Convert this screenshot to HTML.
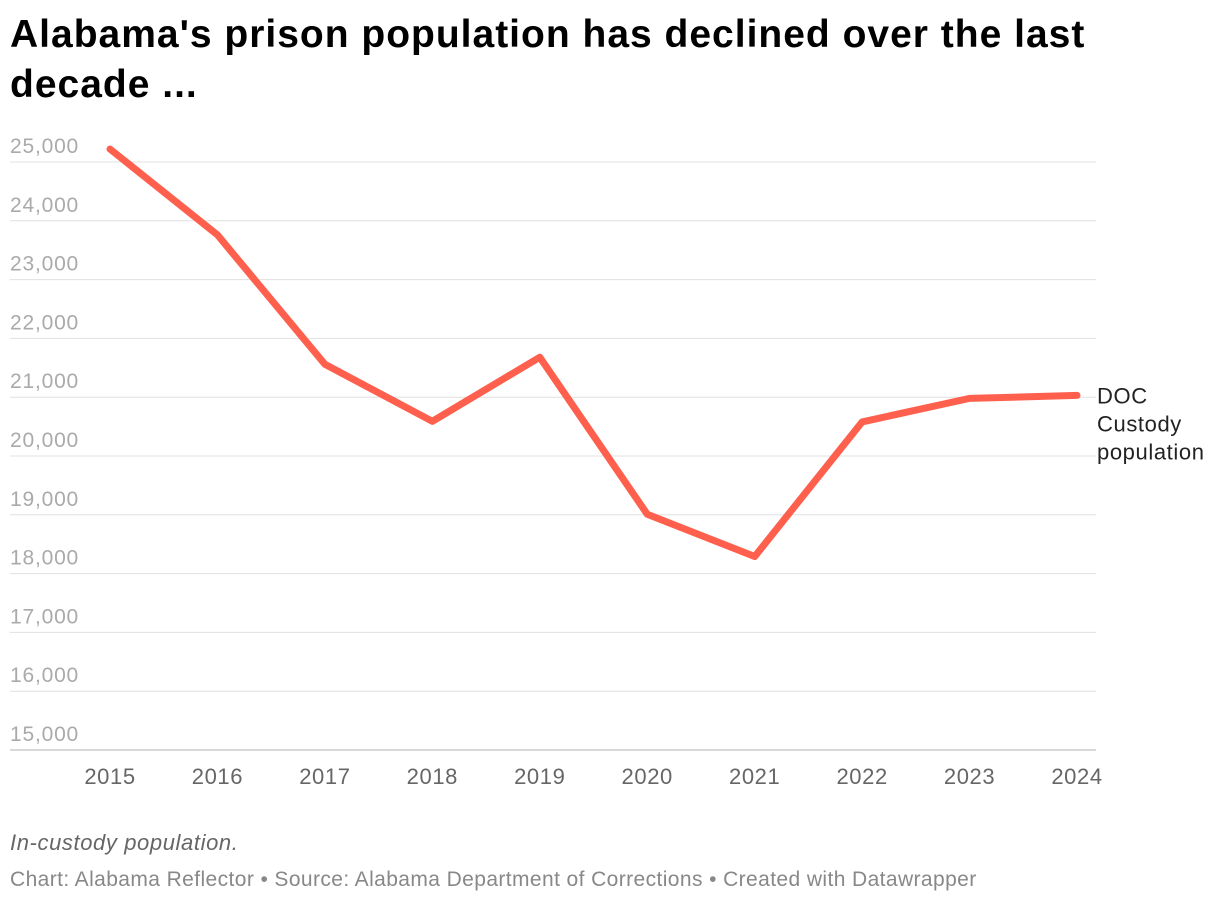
<!DOCTYPE html>
<html><head><meta charset="utf-8"><style>
body{margin:0;background:#fff;width:1220px;height:906px;overflow:hidden;font-family:"Liberation Sans",sans-serif;}
h1{position:absolute;left:10px;top:10px;margin:0;font-size:39px;line-height:50px;font-weight:bold;color:#000;width:1200px;letter-spacing:1px}
.note{position:absolute;left:10px;top:830px;font-size:22px;letter-spacing:0.6px;font-style:italic;color:#666}
.src{position:absolute;left:10px;top:868px;font-size:21px;letter-spacing:0.4px;color:#888}
svg{position:absolute;left:0;top:0}
</style></head><body>
<h1>Alabama's prison population has declined over the last<br>decade ...</h1>
<svg id="c" width="1220" height="906"></svg>
<div class="note">In-custody population.</div>
<div class="src">Chart: Alabama Reflector • Source: Alabama Department of Corrections • Created with Datawrapper</div>
<script>
const years=[2015,2016,2017,2018,2019,2020,2021,2022,2023,2024];
const values=[25220,23760,21560,20590,21680,19010,18290,20580,20980,21030];
const yTicks=[15000,16000,17000,18000,19000,20000,21000,22000,23000,24000,25000];
const seriesLabel=["DOC","Custody","population"];
const NS="http://www.w3.org/2000/svg";
const svg=document.getElementById('c');
const x=i=>110+i*(1077-110)/(years.length-1);
const y=v=>750-(v-15000)*(750-162)/10000;
function mk(t,a){const e=document.createElementNS(NS,t);for(const k in a)e.setAttribute(k,a[k]);svg.appendChild(e);return e;}
yTicks.forEach(v=>{
 const l=mk('line',{x1:10,x2:1096,y1:y(v),y2:y(v),stroke:v===15000?'#ccc':'#e0e0e0','stroke-width':v===15000?1.5:1});
 
 
 const t=mk('text',{x:10,y:y(v)-9,'font-size':21,'letter-spacing':0.8,fill:'#aaa','font-family':'Liberation Sans, sans-serif'});
 t.textContent=v.toLocaleString('en-US');
 
 
});
years.forEach((yr,i)=>{
 const t=mk('text',{x:x(i),y:784,'font-size':22,'letter-spacing':0.6,fill:'#666','text-anchor':'middle','font-family':'Liberation Sans, sans-serif'});
 t.textContent=yr;
 
 
});
const p=mk('polyline',{points:values.map((v,i)=>x(i)+','+y(v)).join(' '),fill:'none',stroke:'#ff604d','stroke-width':7,'stroke-linejoin':'round','stroke-linecap':'round'});


seriesLabel.forEach((s,k)=>{
 const t=mk('text',{x:1097,y:y(values[values.length-1])+8+k*28,'font-size':22,'letter-spacing':0.6,fill:'#222','font-family':'Liberation Sans, sans-serif'});
 t.textContent=s;
 
 
});
</script>
</body></html>
